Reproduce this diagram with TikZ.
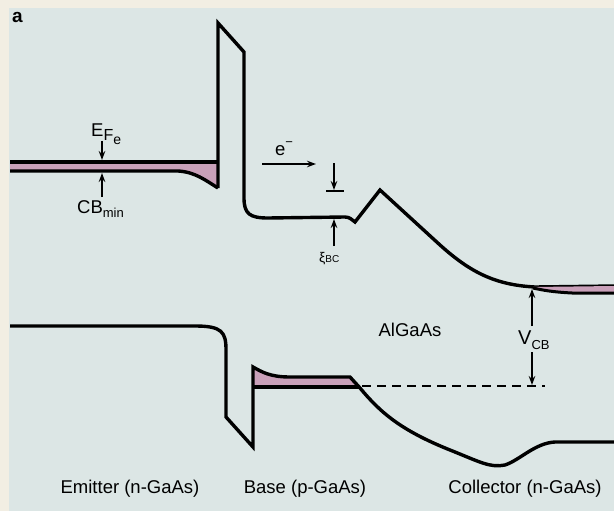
\documentclass[tikz,border=0pt]{standalone}
\usepackage{fontspec}
\setmainfont{Liberation Sans}
\usetikzlibrary{arrows.meta}
\definecolor{cream}{HTML}{F2EEE3}
\definecolor{panel}{HTML}{DCE6E5}
\definecolor{bandpink}{HTML}{C9A0B9}
\newcommand\myfs[1]{\fontsize{#1}{#1}\selectfont}
\tikzset{
  band/.style={line width=3.4pt},
  fillband/.style={fill=bandpink},
  marker/.style={line width=1.7pt,-{Stealth[length=9pt,width=6.5pt]}},
  lbl/.style={inner sep=0pt,font=\myfs{18.5}},
}
\begin{document}
\begin{tikzpicture}[x=1pt,y=-1pt]
\useasboundingbox (0,0) rectangle (614,511);
\fill[cream] (0,0) rectangle (614,511);
\fill[panel] (9,8) rectangle (614,511);
% emitter conduction band with Fermi level
\fill[fillband] (10,162) -- (218,162) -- (218,188) .. controls (205,180) and (195,172) .. (178,171) -- (10,171) -- cycle;
\draw[band] (10,162) -- (218,162);
\draw[band] (10,171) -- (178,171) .. controls (195,172) and (205,180) .. (218,188);
% barrier and base/collector conduction band
\draw[band] (218,188) -- (218,23) -- (244,52) -- (244,198) .. controls (244,214) and (250,218) .. (268,218) -- (345,217) .. controls (350,217) and (352,220) .. (355,222) -- (380,190) -- (440,245) .. controls (470,272) and (495,285) .. (535,287) -- (614,286);
% collector Fermi level
\fill[fillband] (533,287) -- (614,286) -- (614,293) -- (572,293) .. controls (552,292) and (542,290) .. (533,288) -- cycle;
\draw[line width=3pt] (533,288) .. controls (542,290) and (552,292) .. (572,293) -- (614,293);
% valence band
\fill[fillband] (253,367) .. controls (262,372) and (270,377) .. (290,377) -- (350,377) -- (360,387) -- (253,387) -- cycle;
\draw[band] (253,387) -- (360,387);
\draw[band] (10,326) -- (195,326) .. controls (222,326) and (226,332) .. (226,350) -- (226,417) -- (253,447) -- (253,367) .. controls (262,372) and (270,377) .. (290,377) -- (350,377) -- (360,388) .. controls (380,412) and (400,430) .. (450,450) .. controls (480,462) and (490,468) .. (505,465) .. controls (520,460) and (535,443) .. (555,442) -- (614,442);
% dashed reference
\coordinate (d1) at (362,386);
\coordinate (d2) at (545,386);
\draw[line width=1.7pt,dash pattern=on 9pt off 6pt] (d1) -- (d2);
% labels and markers
\node[lbl,anchor=base west,font=\bfseries\myfs{19}] (a) at (12,23) {a};
\coordinate (ef1) at (102,141); \coordinate (ef2) at (102,160);
\draw[marker] (ef1) -- (ef2);
\node[lbl,anchor=base west,font=\myfs{18.5}] (EF) at (91,136) {E\raisebox{-0.5ex}{\myfs{16}F\raisebox{-0.45ex}{\myfs{14}e}}};
\coordinate (cb1) at (102,197); \coordinate (cb2) at (102,173);
\draw[marker] (cb1) -- (cb2);
\node[lbl,anchor=base west] (CB) at (77,213) {CB\raisebox{-0.45ex}{\myfs{13}min}};
\coordinate (e1) at (262,164); \coordinate (e2) at (316,164);
\draw[marker] (e1) -- (e2);
\node[lbl,anchor=base west] (el) at (275,156) {e\raisebox{1.0ex}{\myfs{13}−}};
\coordinate (x1) at (334,163); \coordinate (x2) at (334,190);
\draw[marker] (x1) -- (x2);
\draw[line width=1.7pt] (326,191) -- (344,191);
\coordinate (x3) at (334,246); \coordinate (x4) at (334,219);
\draw[marker] (x3) -- (x4);
\node[lbl,anchor=base west,font=\myfs{14}] (xi) at (319,262) {ξ\myfs{10}BC};
\coordinate (v1) at (532,326); \coordinate (v2) at (532,289);
\coordinate (v3) at (532,352); \coordinate (v4) at (532,385);
\draw[marker] (v1) -- (v2);
\draw[marker] (v3) -- (v4);
\node[lbl,anchor=base west,font=\myfs{20}] (VCB) at (518,344) {V\raisebox{-0.5ex}{\myfs{13}CB}};
\node[lbl] (alg) at (410,330) {AlGaAs};
\node[lbl,anchor=base] (em) at (130,493) {Emitter (n-GaAs)};
\node[lbl,anchor=base] (ba) at (305,493) {Base (p-GaAs)};
\node[lbl,anchor=base] (co) at (525,493) {Collector (n-GaAs)};
\end{tikzpicture}
\end{document}
